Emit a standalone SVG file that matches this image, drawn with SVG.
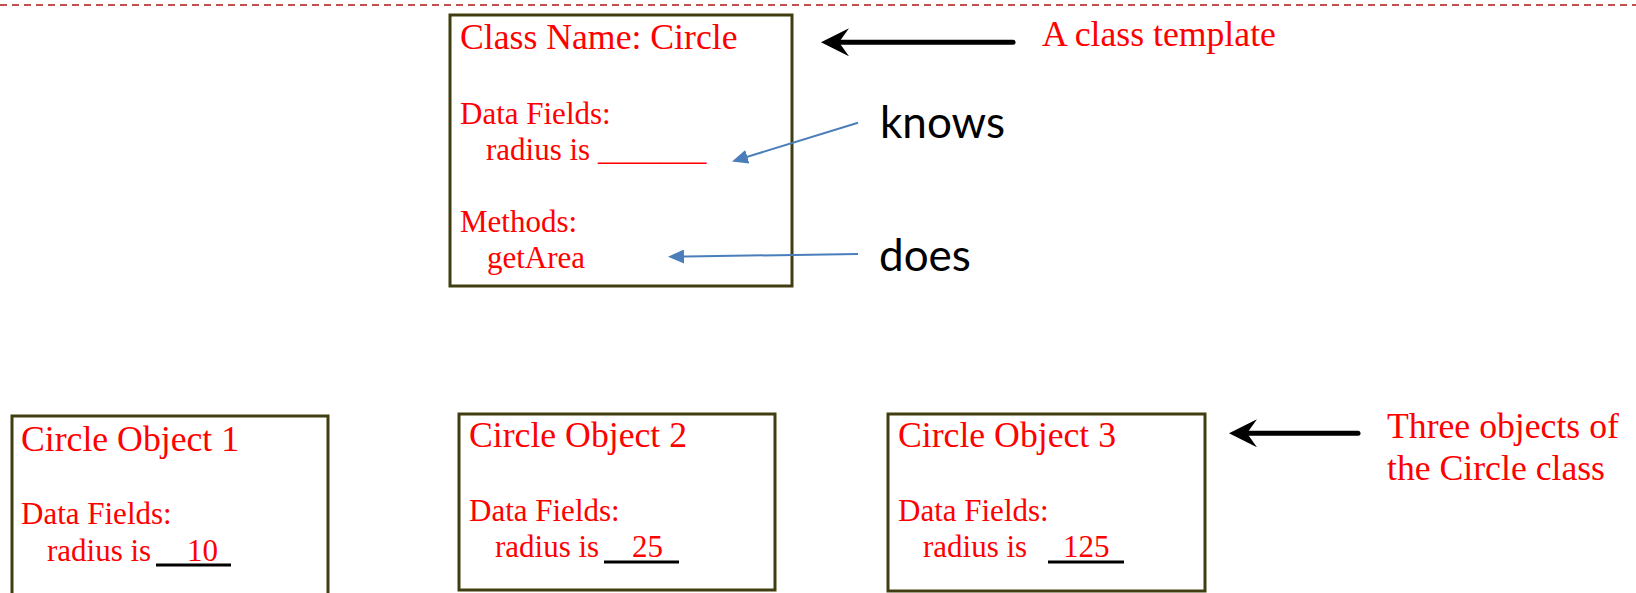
<svg xmlns="http://www.w3.org/2000/svg" width="1636" height="593" viewBox="0 0 1636 593">
  <style>
    .box { fill: #FFFFFF; stroke: #403E10; stroke-width: 3; }
    .t { font-family: "Liberation Serif", "Times New Roman", serif; fill: #FF0000; }
    .h { font-size: 35.7px; }
    .f { font-size: 31px; }
    .lbl { font-family: Lato, "Open Sans", sans-serif; font-size: 44px; fill: #000000; }
    .blue { stroke: #4A7EBB; stroke-width: 2; fill: none; marker-end: url(#blueHead); }
    .black { stroke: #000000; stroke-width: 5; stroke-linecap: round; fill: none; marker-end: url(#blackHead); }
    .ul { stroke: #000000; stroke-width: 3; }
    .sep { stroke: #C0504D; stroke-width: 2; stroke-dasharray: 7 5; }
  </style>
  <defs>
    <marker id="blueHead" markerUnits="userSpaceOnUse" viewBox="0 0 16 14" markerWidth="16" markerHeight="14" refX="13" refY="7" orient="auto">
      <path d="M0,0 L16,7 L0,14 z" fill="#4A7EBB"/>
    </marker>
    <marker id="blackHead" markerUnits="userSpaceOnUse" viewBox="0 0 28 28" markerWidth="28" markerHeight="28" refX="16" refY="14" orient="auto">
      <path d="M28,14 L0,0 L10,14 L0,28 z" fill="#000000"/>
    </marker>
  </defs>

  <!-- dashed separator along the top -->
  <line class="sep" x1="0" y1="5" x2="1636" y2="5"/>

  <!-- class template -->
  <g id="class-circle">
    <rect class="box" x="450" y="15" width="342" height="271"/>
    <text class="t h" x="460" y="49">Class Name: Circle</text>
    <text class="t f" x="460" y="124">Data Fields:</text>
    <text class="t f" x="486" y="160">radius is _______</text>
    <text class="t f" x="460" y="232">Methods:</text>
    <text class="t f" x="487" y="268">getArea</text>
  </g>

  <!-- object instances -->
  <g id="object1">
    <rect class="box" x="12" y="416" width="316" height="182"/>
    <text class="t h" x="21" y="451">Circle Object 1</text>
    <text class="t f" x="21" y="524">Data Fields:</text>
    <text class="t f" x="47" y="561">radius is</text>
    <line class="ul" x1="156" y1="565" x2="231" y2="565"/>
    <text class="t f" x="187" y="561">10</text>
  </g>

  <g id="object2">
    <rect class="box" x="459" y="414" width="316" height="176"/>
    <text class="t h" x="469" y="447">Circle Object 2</text>
    <text class="t f" x="469" y="521">Data Fields:</text>
    <text class="t f" x="495" y="557">radius is</text>
    <line class="ul" x1="604" y1="562" x2="679" y2="562"/>
    <text class="t f" x="632" y="557">25</text>
  </g>

  <g id="object3">
    <rect class="box" x="888" y="414" width="317" height="177"/>
    <text class="t h" x="898" y="447">Circle Object 3</text>
    <text class="t f" x="898" y="521">Data Fields:</text>
    <text class="t f" x="923" y="557">radius is</text>
    <line class="ul" x1="1048" y1="562" x2="1124" y2="562"/>
    <text class="t f" x="1063" y="557">125</text>
  </g>

  <!-- annotations -->
  <g id="label-template">
    <text class="t h" x="1042" y="46">A class template</text>
  </g>
  <g id="label-knows">
    <text class="lbl" x="880" y="138">knows</text>
  </g>
  <g id="label-does">
    <text class="lbl" x="879" y="271">does</text>
  </g>
  <g id="label-objects">
    <text class="t h" x="1387" y="438">Three objects of</text>
    <text class="t h" x="1387" y="480">the Circle class</text>
  </g>

  <!-- connectors -->
  <g id="connectors">
    <line class="black" x1="1013" y1="42.3" x2="833" y2="42.3"/>
    <line class="black" x1="1358" y1="433.3" x2="1241" y2="433.3"/>
    <line class="blue" x1="858" y1="122.7" x2="734.9" y2="160.6"/>
    <line class="blue" x1="858" y1="254" x2="671" y2="256.7"/>
  </g>
</svg>
